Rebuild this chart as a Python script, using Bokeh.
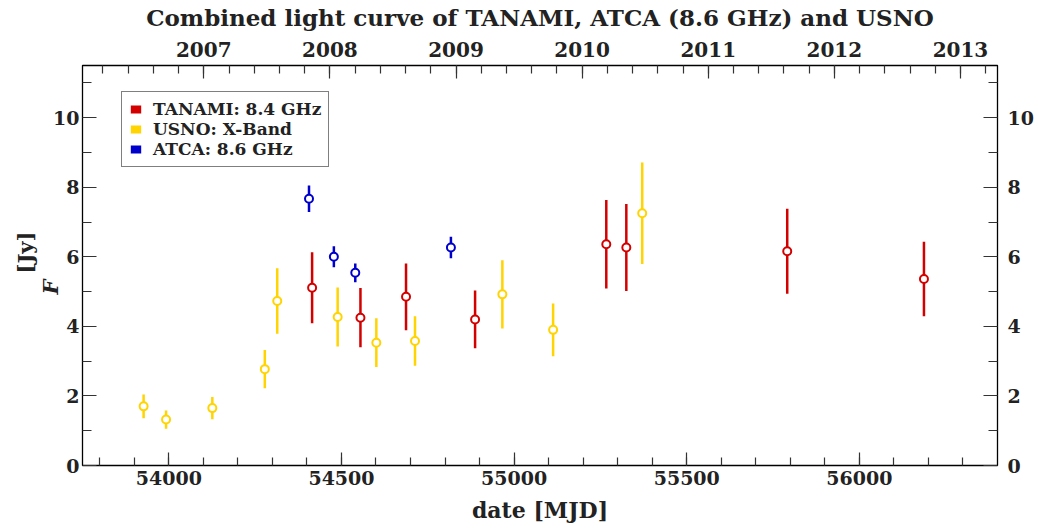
from bokeh.plotting import figure
from bokeh.models import (Range1d, LinearAxis, FixedTicker, Legend, LegendItem,
                          Label, BasicTickFormatter)
from bokeh.embed import file_html
from bokeh.resources import INLINE

# TANAMI 8.4 GHz flux densities
tanami_mjd = [54415, 54555, 54687, 54887, 55267, 55325, 55791, 56187]
tanami_flux = [5.11, 4.25, 4.85, 4.20, 6.36, 6.27, 6.16, 5.36]
tanami_err = [1.02, 0.85, 0.96, 0.83, 1.27, 1.25, 1.22, 1.07]

# USNO X-band flux densities
usno_mjd = [53927, 53992, 54126, 54278, 54314, 54489, 54601, 54713, 54966, 55113, 55371]
usno_flux = [1.70, 1.32, 1.65, 2.77, 4.73, 4.27, 3.53, 3.58, 4.92, 3.90, 7.25]
usno_err = [0.34, 0.26, 0.32, 0.55, 0.94, 0.85, 0.70, 0.71, 0.98, 0.76, 1.46]

# ATCA 8.6 GHz flux densities
atca_mjd = [54406, 54478, 54540, 54817]
atca_flux = [7.67, 6.00, 5.54, 6.27]
atca_err = [0.38, 0.30, 0.27, 0.31]

x_major = [54000, 54500, 55000, 55500, 56000]
y_major = [0, 2, 4, 6, 8, 10]
years = [2007, 2008, 2009, 2010, 2011, 2012, 2013]

MJD_START, MJD_END = 53750, 56400
MJD_2006 = 53736  # 2006-01-01


def mjd_to_year(m):
    return 2006 + (m - MJD_2006) / 365.25


FONT = "DejaVu Serif"
INK = "#222222"
RED = "#d40000"
YELLOW = "#ffd400"
BLUE = "#0000cc"
NAN = float("nan")
TITLE = "Combined light curve of TANAMI, ATCA (8.6 GHz) and USNO"

p = figure(width=1038, height=529, output_backend="svg", toolbar_location=None,
           x_range=Range1d(MJD_START, MJD_END), y_range=Range1d(0, 11.5),
           min_border_left=82, min_border_right=41, min_border_top=64,
           min_border_bottom=64)
p.xgrid.visible = False
p.ygrid.visible = False
p.outline_line_color = "black"
p.outline_line_width = 1.3


def style_axis(ax, major_len, minor_len, standoff, size="19px"):
    ax.major_tick_in = major_len
    ax.major_tick_out = 0
    ax.minor_tick_in = minor_len
    ax.minor_tick_out = 0
    ax.major_tick_line_color = "#333333"
    ax.minor_tick_line_color = "#333333"
    ax.major_tick_line_width = 1.2
    ax.minor_tick_line_width = 1.2
    ax.axis_line_color = "black"
    ax.major_label_text_font = FONT
    ax.major_label_text_font_style = "bold"
    ax.major_label_text_font_size = size
    ax.major_label_text_color = INK
    ax.major_label_standoff = standoff


def style_label(ax, size, standoff):
    ax.axis_label_text_font = FONT
    ax.axis_label_text_font_style = "bold"
    ax.axis_label_text_font_size = size
    ax.axis_label_text_color = INK
    ax.axis_label_standoff = standoff


# bottom MJD axis
xax = p.xaxis[0]
xax.ticker = FixedTicker(ticks=x_major,
                         minor_ticks=list(range(53800, 56400, 100)))
xax.formatter = BasicTickFormatter(use_scientific=False)
style_axis(xax, 13, 8, 5)
xax.axis_label = "date [MJD]"
style_label(xax, "22px", 9)

# left flux axis
y_ticker = FixedTicker(ticks=y_major, minor_ticks=[1, 3, 5, 7, 9, 11])
yax = p.yaxis[0]
yax.ticker = y_ticker
style_axis(yax, 14, 9, 3)

# right flux axis
yax_r = LinearAxis(ticker=y_ticker)
style_axis(yax_r, 14, 9, 10)
p.add_layout(yax_r, "right")

# top calendar-year axis, carrying the chart heading as its label
p.extra_x_ranges = {"year": Range1d(mjd_to_year(MJD_START), mjd_to_year(MJD_END))}
year_minor = [2006 + k * 0.2 for k in range(1, 37)]
top_ax = LinearAxis(x_range_name="year",
                    ticker=FixedTicker(ticks=years, minor_ticks=year_minor),
                    formatter=BasicTickFormatter(use_scientific=False))
style_axis(top_ax, 13, 8, 9, size="20px")
top_ax.axis_label = TITLE
style_label(top_ax, "23px", 8)
p.add_layout(top_ax, "above")

# y-axis label: italic F followed by upright unit, in the left side panel
p.add_layout(Label(x=25, y=171, x_units="screen", y_units="screen",
                   text="F", angle=1.5708, text_align="left",
                   text_baseline="middle", text_font=FONT,
                   text_font_style="bold italic", text_font_size="21px",
                   text_color=INK), "left")
p.add_layout(Label(x=25, y=192, x_units="screen", y_units="screen",
                   text="[Jy]", angle=1.5708, text_align="left",
                   text_baseline="middle", text_font=FONT,
                   text_font_style="bold", text_font_size="21px",
                   text_color=INK), "left")


def draw_series(mjd, flux, err, color):
    lo = [f - e for f, e in zip(flux, err)]
    hi = [f + e for f, e in zip(flux, err)]
    p.segment(x0=mjd, y0=lo, x1=mjd, y1=hi, line_color=color, line_width=2.5)
    p.scatter(x=mjd, y=flux, marker="circle", size=8, fill_color="white",
              line_color=color, line_width=2)


draw_series(usno_mjd, usno_flux, usno_err, YELLOW)
draw_series(tanami_mjd, tanami_flux, tanami_err, RED)
draw_series(atca_mjd, atca_flux, atca_err, BLUE)


# legend swatches (renderers hold no drawable data, only their colour)
def swatch(color):
    return p.quad(left=[NAN], right=[NAN], top=[NAN], bottom=[NAN],
                  fill_color=color, line_color=None)


sw_t, sw_u, sw_a = swatch(RED), swatch(YELLOW), swatch(BLUE)

legend = Legend(items=[LegendItem(label="TANAMI: 8.4 GHz", renderers=[sw_t]),
                       LegendItem(label="USNO: X-Band", renderers=[sw_u]),
                       LegendItem(label="ATCA: 8.6 GHz", renderers=[sw_a])],
                location=(39, 298), orientation="vertical",
                label_text_font=FONT, label_text_font_style="bold",
                label_text_font_size="17px", label_text_color=INK,
                glyph_width=13, glyph_height=10, label_height=18,
                label_standoff=11, spacing=0, padding=7, margin=0,
                border_line_color="black", border_line_width=1.2,
                background_fill_alpha=1)
p.add_layout(legend, "center")

open("out.html", "w").write(file_html(p, INLINE))
